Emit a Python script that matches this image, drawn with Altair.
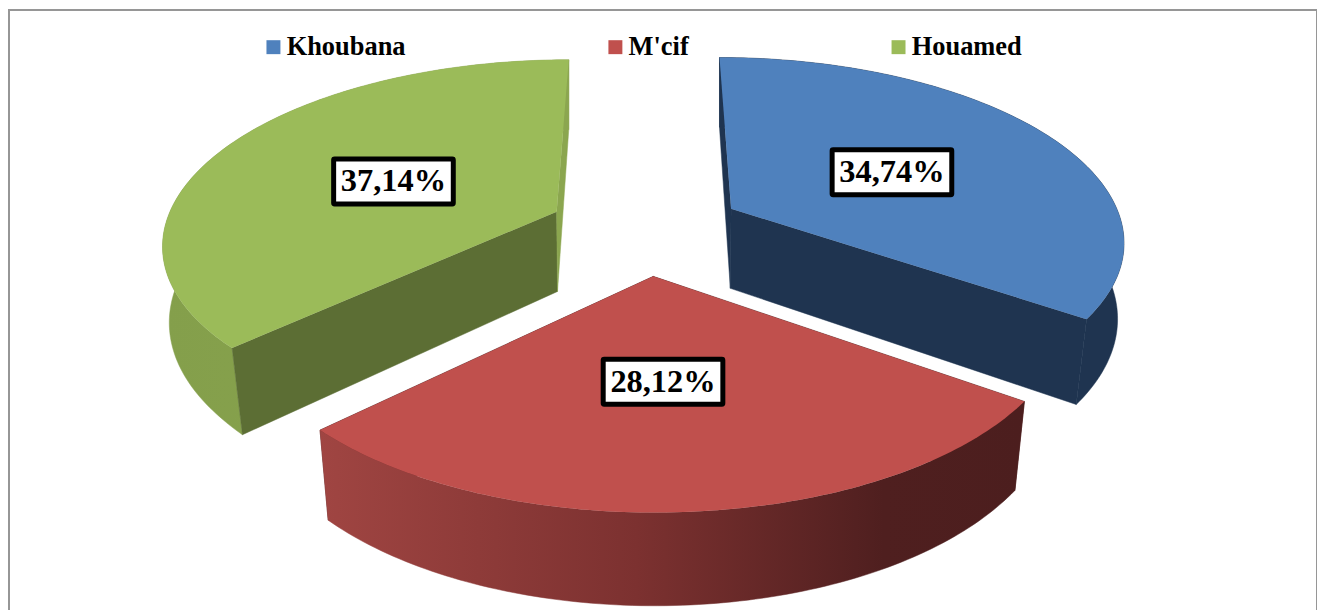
import numpy as np
import pandas as pd
import altair as alt

names = ["Khoubana", "M'cif", "Houamed"]
shares = [34.74, 28.12, 37.14]
labels = ["34,74%", "28,12%", "37,14%"]
top_colors = ["#4F81BD", "#C0504D", "#9BBB59"]

W, H = 1312, 603
EXPLODE, RX, RY, PERSP, CX, CY = 0.25, 394, 182, 0.16, 647.5, 229
LABEL_R = 0.73
LABEL_NUDGE = [(5, -1), (-7, 1), (0, 0)]


def project(px, py, drop=False):
    w = 1 + PERSP * py
    x = CX + RX * px / w
    y = CY - RY * py / w
    if drop:
        x = CX + (x - CX) * (1 - np.clip(0.012 - 0.025 * py, 0, 0.025))
        y = y + 81 - 10 * py
    return x, y


def sector(start, end):
    mid = np.radians((start + end) / 2)
    ox, oy = EXPLODE * np.sin(mid), EXPLODE * np.cos(mid)
    t = np.radians(np.linspace(start, end, int(end - start) + 2))
    return ox, oy, ox + np.sin(t), oy + np.cos(t)


def frame(points):
    xs, ys = points
    return pd.DataFrame({"x": xs, "y": ys, "i": range(len(xs))})


x_enc = alt.X("x:Q", axis=None, scale=alt.Scale(domain=[9, W + 9], range=[0, W]))
y_enc = alt.Y("y:Q", axis=None, scale=alt.Scale(domain=[9, H + 9], range=[0, H]))


def poly(points, fill):
    return alt.Chart(frame(points)).mark_line(
        filled=True, fill=fill, stroke=fill, strokeWidth=0.5, interpolate="linear-closed"
    ).encode(x=x_enc, y=y_enc, order="i:Q")


def quad(ax, ay, bx, by):
    x1, y1 = project(np.array([ax, bx]), np.array([ay, by]))
    x2, y2 = project(np.array([bx, ax]), np.array([by, ay]), drop=True)
    return np.r_[x1, x2], np.r_[y1, y2]


edges = np.cumsum([0] + shares) * 3.6
green_wall = alt.LinearGradient(
    gradient="linear", x1=0, x2=1, y1=0, y2=0,
    stops=[alt.GradientStop(offset=0, color="#849F4B"), alt.GradientStop(offset=1, color="#8AA54E")],
)
red_wall = alt.LinearGradient(
    gradient="linear", x1=0, x2=1, y1=0, y2=0,
    stops=[
        alt.GradientStop(offset=0, color="#A04542"),
        alt.GradientStop(offset=0.45, color="#7C3130"),
        alt.GradientStop(offset=0.8, color="#4F1F1F"),
        alt.GradientStop(offset=1, color="#4C1E1E"),
    ],
)
start_wall = ["#1F3450", "#4F1F1F", "#5C6E34"]
end_wall = ["#1F3450", "#4F1F1F", "#8BA64F"]
outer = ["#1F3450", red_wall, green_wall]

walls = []
tops = []
label_rows = []
for k in range(3):
    s, e = edges[k], edges[k + 1]
    ox, oy, ax, ay = sector(s, e)
    tx, ty = project(ax, ay)
    bx, by = project(ax, ay, drop=True)
    rim = poly((np.r_[tx, bx[::-1]], np.r_[ty, by[::-1]]), outer[k])
    radial = [
        poly(quad(ox, oy, ax[0], ay[0]), start_wall[k]),
        poly(quad(ox, oy, ax[-1], ay[-1]), end_wall[k]),
    ]
    walls += radial + [rim] if s < 180 < e else [rim] + radial
    fx, fy = project(np.r_[ox, ax], np.r_[oy, ay])
    tops.append(pd.DataFrame({"x": fx, "y": fy, "i": range(len(fx)), "slice": names[k]}))
    mid = np.radians((s + e) / 2)
    lx, ly = project(LABEL_R * np.sin(mid), LABEL_R * np.cos(mid))
    label_rows.append({"x": lx + LABEL_NUDGE[k][0], "y": ly + 2 + LABEL_NUDGE[k][1], "label": labels[k]})

top_layer = alt.Chart(pd.concat(tops)).mark_line(
    filled=True, strokeWidth=0, interpolate="linear-closed"
).encode(
    x=x_enc,
    y=y_enc,
    order="i:Q",
    fill=alt.Fill(
        "slice:N",
        scale=alt.Scale(domain=names, range=top_colors),
        legend=alt.Legend(
            title=None,
            orient="none",
            legendX=252,
            legendY=24,
            direction="horizontal",
            columns=3,
            columnPadding=197,
            symbolType="square",
            symbolSize=196,
            symbolStrokeWidth=0,
            labelFont="Liberation Serif",
            labelFontWeight="bold",
            labelFontSize=26.5,
            labelColor="#000000",
            labelOffset=0,
        ),
    ),
)

label_df = pd.DataFrame(label_rows)
boxes = alt.Chart(label_df).mark_rect(
    width=120, height=45, fill="#FFFFFF", stroke="#000000", strokeWidth=5, cornerRadius=1
).encode(x=x_enc, y=y_enc)
texts = alt.Chart(label_df).mark_text(
    font="Liberation Serif", fontWeight="bold", fontSize=32.5, color="#000000", baseline="middle", align="center"
).encode(x=x_enc, y=y_enc, text="label:N")

chart = alt.layer(*walls, top_layer, boxes, texts).properties(
    width=W, height=H, padding={"left": 1, "top": 1, "right": 0, "bottom": 0}, background="#FFFFFF"
).configure_view(stroke="#969696", strokeWidth=2)

chart.save("out.html", embed_options={"renderer": "svg", "actions": False})
